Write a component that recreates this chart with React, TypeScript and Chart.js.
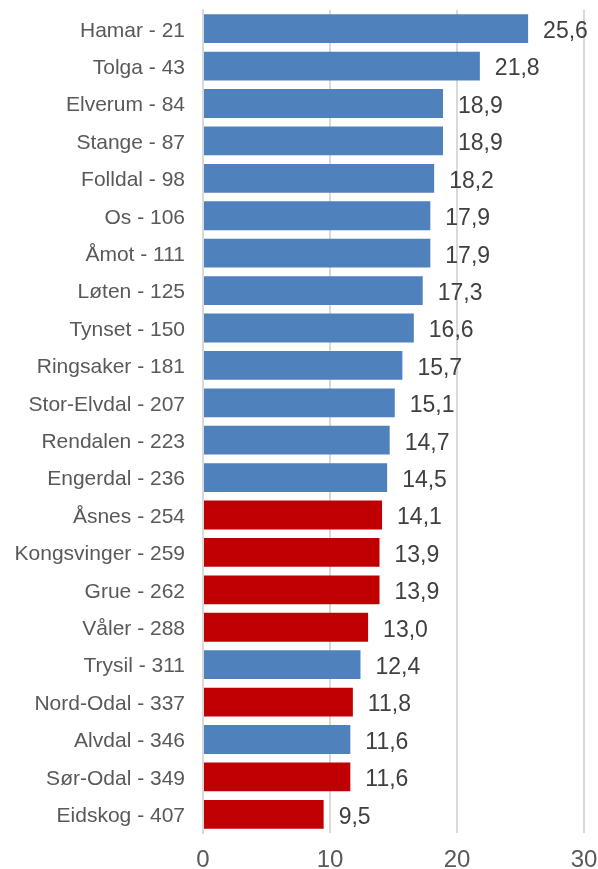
import React, { useEffect, useRef } from "react";
import { Chart, registerables } from "chart.js";

Chart.register(...registerables);

const municipalities = [
  "Hamar", "Tolga", "Elverum", "Stange", "Folldal", "Os", "Åmot", "Løten",
  "Tynset", "Ringsaker", "Stor-Elvdal", "Rendalen", "Engerdal", "Åsnes",
  "Kongsvinger", "Grue", "Våler", "Trysil", "Nord-Odal", "Alvdal", "Sør-Odal", "Eidskog",
];
const ranks = [21, 43, 84, 87, 98, 106, 111, 125, 150, 181, 207, 223, 236, 254, 259, 262, 288, 311, 337, 346, 349, 407];
const values = [25.6, 21.8, 18.9, 18.9, 18.2, 17.9, 17.9, 17.3, 16.6, 15.7, 15.1, 14.7, 14.5, 14.1, 13.9, 13.9, 13.0, 12.4, 11.8, 11.6, 11.6, 9.5];
const highlighted = ["Åsnes", "Kongsvinger", "Grue", "Våler", "Nord-Odal", "Sør-Odal", "Eidskog"];
const xTicks = [0, 10, 20, 30];

const BLUE = "#4F81BD";
const RED = "#C00000";
const FONT = "'Liberation Sans', Arial, sans-serif";

const labelPlugin = {
  id: "valueLabels",
  afterDatasetsDraw(chart: any) {
    const ctx = chart.ctx;
    const meta = chart.getDatasetMeta(0);
    ctx.save();
    ctx.font = `23px ${FONT}`;
    ctx.fillStyle = "#404040";
    ctx.textAlign = "left";
    ctx.textBaseline = "middle";
    meta.data.forEach((bar: any, i: number) => {
      const txt = values[i].toFixed(1).replace(".", ",");
      ctx.fillText(txt, bar.x + 15, bar.y + 3);
    });
    ctx.restore();
  },
};

export default function App() {
  const ref = useRef<HTMLCanvasElement>(null);
  useEffect(() => {
    const labels = municipalities.map((m, i) => `${m} - ${ranks[i]}`);
    const colors = municipalities.map((m) => (highlighted.includes(m) ? RED : BLUE));
    const chart = new Chart(ref.current!, {
      type: "bar",
      data: {
        labels,
        datasets: [
          {
            data: values,
            backgroundColor: colors,
            borderWidth: 0,
            categoryPercentage: 1,
            barPercentage: 0.77,
          },
        ],
      },
      options: {
        indexAxis: "y",
        animation: false,
        responsive: false,
        maintainAspectRatio: false,
        layout: { padding: { top: 10, right: 14, left: 0, bottom: 0 } },
        plugins: { legend: { display: false }, tooltip: { enabled: false } },
        scales: {
          x: {
            min: 0,
            max: 30,
            afterBuildTicks: (s: any) => {
              s.ticks = xTicks.map((v) => ({ value: v }));
            },
            grid: { color: "#D9D9D9", lineWidth: 2, drawTicks: false },
            border: { display: false },
            ticks: {
              font: { family: FONT, size: 24 },
              color: "#595959",
              padding: 13,
            },
            afterFit: (s: any) => {
              s.height = 36;
              s.paddingLeft = 0;
              s.paddingRight = 0;
            },
          },
          y: {
            grid: { display: false, drawTicks: false },
            border: { display: true, color: "#D9D9D9", width: 2 },
            ticks: {
              font: { family: FONT, size: 21 },
              color: "#595959",
              padding: 18,
              labelOffset: 2,
              autoSkip: false,
            },
            afterFit: (s: any) => {
              s.width = 203;
              s.paddingTop = 0;
              s.paddingBottom = 0;
            },
          },
        },
      },
      plugins: [labelPlugin],
    });
    return () => chart.destroy();
  }, []);
  return (
    <div style={{ position: "fixed", left: 0, top: 0, width: 598, height: 869, background: "#fff" }}>
      <canvas ref={ref} width={598} height={869} />
    </div>
  );
}
